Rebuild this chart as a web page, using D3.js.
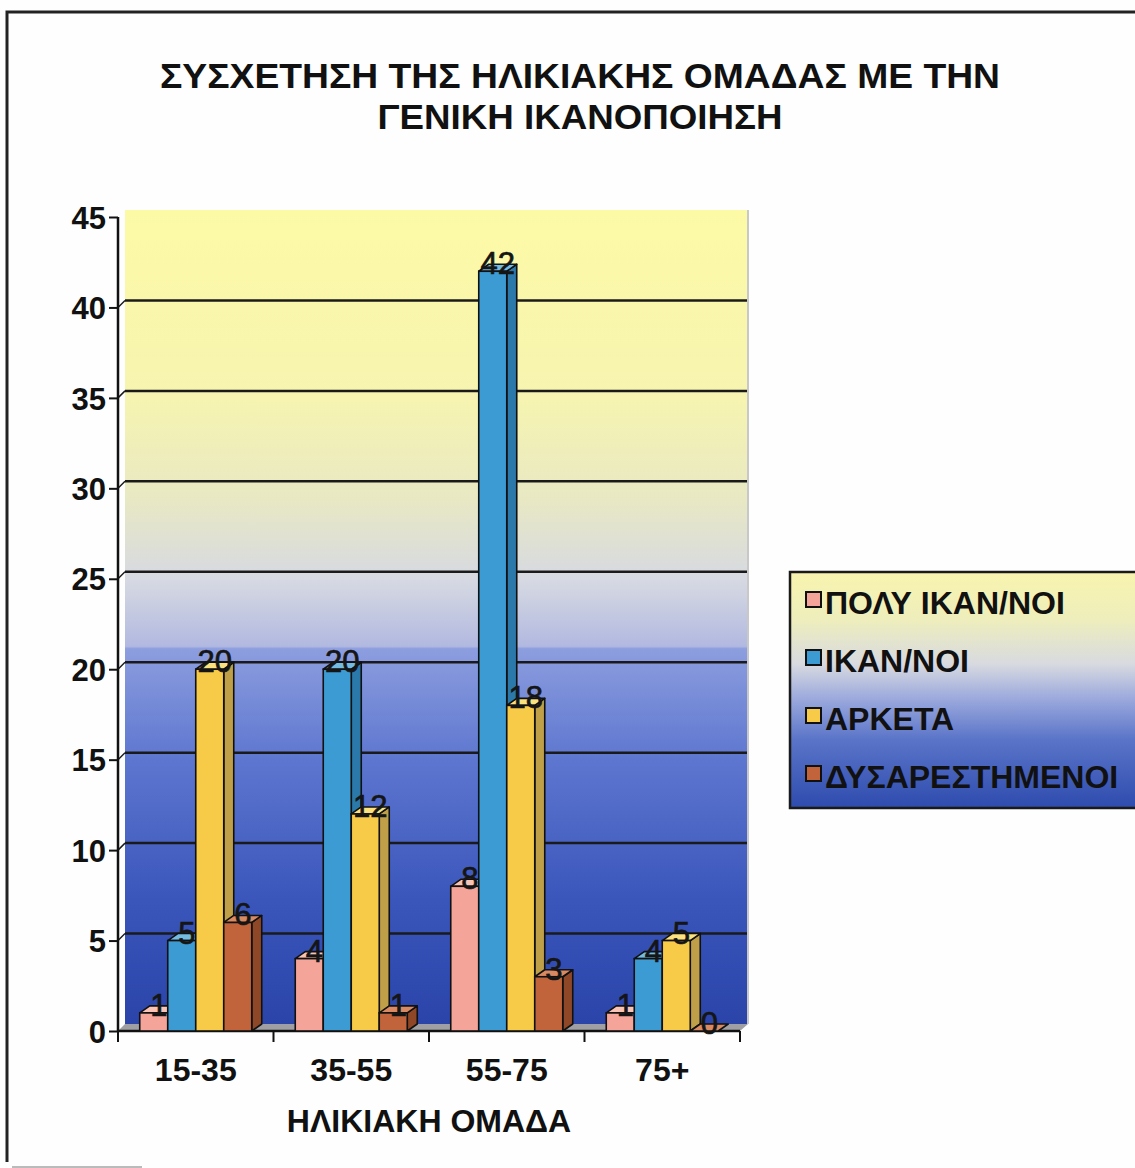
<!DOCTYPE html>
<html>
<head>
<meta charset="utf-8">
<script src="https://cdn.jsdelivr.net/npm/d3@7"></script>
<style>
  html, body { margin: 0; padding: 0; background: #fdfefd; }
  svg { display: block; }
  text { font-family: "Liberation Sans", Arial, sans-serif; }
</style>
</head>
<body>
<svg id="chart" width="1135" height="1168"></svg>
<script>
// Age groups and satisfaction levels
const categories = ["15-35", "35-55", "55-75", "75+"];
const seriesNames = ["ΠΟΛΥ ΙΚΑΝ/ΝΟΙ", "ΙΚΑΝ/ΝΟΙ", "ΑΡΚΕΤΑ", "ΔΥΣΑΡΕΣΤΗΜΕΝΟΙ"];
const polyIkanoi = [1, 4, 8, 1];
const ikanoi = [5, 20, 42, 4];
const arketa = [20, 12, 18, 5];
const dysarestimenoi = [6, 1, 3, 0];
const yTicks = [0, 5, 10, 15, 20, 25, 30, 35, 40, 45];
const titleLines = ["ΣΥΣΧΕΤΗΣΗ ΤΗΣ ΗΛΙΚΙΑΚΗΣ ΟΜΑΔΑΣ ΜΕ ΤΗΝ", "ΓΕΝΙΚΗ ΙΚΑΝΟΠΟΙΗΣΗ"];
const xTitle = "ΗΛΙΚΙΑΚΗ ΟΜΑΔΑ";

const seriesValues = [polyIkanoi, ikanoi, arketa, dysarestimenoi];

// face colours per series: front, top, side
const palette = [
  { front: "#f4a498", top: "#f9c4b6", side: "#d38a7c" },
  { front: "#3d9bd4", top: "#74bbe2", side: "#2b78aa" },
  { front: "#f7cb47", top: "#fbe27e", side: "#bfa048" },
  { front: "#c2643b", top: "#da8a62", side: "#8e4727" }
];

const svg = d3.select("#chart");
const defs = svg.append("defs");

// plot area
const plotL = 118, plotR = 740, plotB = 1031, plotT = 217;
const wallDx = 7, wallDy = -7;     // back wall offset
const depthX = 10, depthY = -7;    // bar depth
const barW = 28;

const y = d3.scaleLinear().domain([0, 45]).range([plotB, plotT]);
const x0 = d3.scaleBand().domain(categories).range([plotL, plotR]);
const groupW = barW * seriesNames.length;
const x1 = d3.scaleBand().domain(seriesNames)
  .range([(x0.bandwidth() - groupW) / 2, (x0.bandwidth() + groupW) / 2]);

// outer frame
svg.append("path")
  .attr("d", "M7,1162 V12 H1135")
  .attr("fill", "none").attr("stroke", "#222").attr("stroke-width", 3);
svg.append("line")
  .attr("x1", 12).attr("x2", 142).attr("y1", 1167).attr("y2", 1167)
  .attr("stroke", "#bbb").attr("stroke-width", 2);

// title (two centred lines)
const titleWidths = [840, 405];
svg.append("g").selectAll("text").data(titleLines).join("text")
  .attr("x", 580).attr("y", (d, i) => 88 + i * 41)
  .attr("text-anchor", "middle")
  .attr("font-size", 35).attr("font-weight", "bold").attr("fill", "#111")
  .attr("textLength", (d, i) => titleWidths[i])
  .attr("lengthAdjust", "spacingAndGlyphs")
  .text(d => d);

// back wall gradient
const wallGrad = defs.append("linearGradient").attr("id", "wallGrad")
  .attr("x1", 0).attr("y1", 0).attr("x2", 0).attr("y2", 1);
[
  [0, "#fdfaa6"], [0.233, "#f6f4b0"], [0.356, "#e8e8c4"], [0.455, "#d6d9e2"],
  [0.536, "#b2b9e0"], [0.539, "#8d9edf"], [0.676, "#5d76cf"], [0.848, "#3a56bb"], [1, "#2a44aa"]
].forEach(([o, c]) => wallGrad.append("stop").attr("offset", o).attr("stop-color", c));

const wallTop = y(45) + wallDy, wallBottom = plotB + wallDy;
svg.append("rect")
  .attr("x", plotL + wallDx).attr("y", wallTop)
  .attr("width", plotR + 1 - plotL).attr("height", wallBottom - wallTop)
  .attr("fill", "url(#wallGrad)");
svg.append("line")
  .attr("x1", plotR + wallDx + 1).attr("x2", plotR + wallDx + 1)
  .attr("y1", wallTop).attr("y2", wallBottom)
  .attr("stroke", "#c8c8c8").attr("stroke-width", 2);

// gridlines on the wall, with the short diagonal joining the axis
const grid = svg.append("g");
yTicks.filter(t => t > 0 && t < 45).forEach(t => {
  grid.append("line")
    .attr("x1", plotL + wallDx).attr("x2", plotR + wallDx)
    .attr("y1", y(t) + wallDy).attr("y2", y(t) + wallDy)
    .attr("stroke", "#1a1a1a").attr("stroke-width", 2.5);
  grid.append("line")
    .attr("x1", plotL).attr("x2", plotL + wallDx)
    .attr("y1", y(t)).attr("y2", y(t) + wallDy)
    .attr("stroke", "#1a1a1a").attr("stroke-width", 1.5);
});

// floor
svg.append("path")
  .attr("d", `M${plotL},${plotB} L${plotR},${plotB} L${plotR + wallDx + 1},${plotB + wallDy} L${plotL + wallDx},${plotB + wallDy} Z`)
  .attr("fill", "#a0a0a4");

// y axis
const yAxis = svg.append("g")
  .attr("transform", `translate(${plotL},0)`)
  .call(d3.axisLeft(y).tickValues(yTicks).tickSize(9).tickPadding(3).tickFormat(d3.format("d")));
yAxis.select(".domain").attr("stroke", "#111").attr("stroke-width", 2.5)
  .attr("d", `M0,${plotT}V${plotB}`);
yAxis.selectAll(".tick line").attr("stroke", "#111").attr("stroke-width", 2);
yAxis.selectAll(".tick text")
  .attr("font-size", 31).attr("font-weight", "bold").attr("fill", "#111")
  .attr("font-family", "Liberation Sans, Arial, sans-serif").attr("dy", "0.36em");

// x axis
const xAxis = svg.append("g")
  .attr("transform", `translate(0,${plotB})`)
  .call(d3.axisBottom(x0).tickSize(0).tickPadding(27));
xAxis.select(".domain").attr("stroke", "#111").attr("stroke-width", 2.5)
  .attr("d", `M${plotL},0H${plotR}`);
xAxis.selectAll(".tick text")
  .attr("font-size", 32).attr("font-weight", "bold").attr("fill", "#111")
  .attr("font-family", "Liberation Sans, Arial, sans-serif");
// category boundary ticks
const boundaries = categories.map(c => x0(c)).concat([plotR]);
xAxis.append("g").selectAll("line").data(boundaries).join("line")
  .attr("x1", d => d).attr("x2", d => d).attr("y1", 0).attr("y2", 11)
  .attr("stroke", "#111").attr("stroke-width", 2);

svg.append("text")
  .attr("x", (plotL + plotR) / 2).attr("y", 1132)
  .attr("text-anchor", "middle")
  .attr("font-size", 32).attr("font-weight", "bold").attr("fill", "#111")
  .text(xTitle);

// 3D bars, drawn left to right so each front covers the previous side face
const bars = [];
categories.forEach((c, ci) => {
  seriesNames.forEach((s, si) => {
    bars.push({ cat: c, series: s, si, value: seriesValues[si][ci] });
  });
});

const barG = svg.append("g");
bars.forEach(b => {
  const bx = x0(b.cat) + x1(b.series);
  const by = y(b.value);
  const col = palette[b.si];
  const g = barG.append("g");
  if (b.value > 0) {
    g.append("path")
      .attr("d", `M${bx + barW},${plotB} L${bx + barW + depthX},${plotB + depthY} L${bx + barW + depthX},${by + depthY} L${bx + barW},${by} Z`)
      .attr("fill", col.side).attr("stroke", "#111").attr("stroke-width", 1.6).attr("stroke-linejoin", "round");
  }
  g.append("path")
    .attr("d", `M${bx},${by} L${bx + depthX},${by + depthY} L${bx + barW + depthX},${by + depthY} L${bx + barW},${by} Z`)
    .attr("fill", col.top).attr("stroke", "#111").attr("stroke-width", 1.6).attr("stroke-linejoin", "round");
  if (b.value > 0) {
    g.append("rect")
      .attr("x", bx).attr("y", by).attr("width", barW).attr("height", plotB - by)
      .attr("fill", col.front).attr("stroke", "#111").attr("stroke-width", 1.6);
  }
});

// value labels
svg.append("g").selectAll("text").data(bars).join("text")
  .attr("x", d => x0(d.cat) + x1(d.series) + barW / 2 + depthX / 2)
  .attr("y", d => y(d.value) + 3)
  .attr("text-anchor", "middle")
  .attr("font-size", 31).attr("fill", "#151515")
  .attr("stroke", "#151515").attr("stroke-width", 0.7)
  .text(d => d.value);

// legend
const legGrad = defs.append("linearGradient").attr("id", "legGrad")
  .attr("x1", 0).attr("y1", 0).attr("x2", 0).attr("y2", 1);
[
  [0, "#f8f4ae"], [0.2, "#eeeebc"], [0.39, "#d8dae0"], [0.54, "#9aa8dc"], [0.71, "#5a74c8"], [1, "#2e4cae"]
].forEach(([o, c]) => legGrad.append("stop").attr("offset", o).attr("stop-color", c));

const legend = svg.append("g");
legend.append("rect")
  .attr("x", 790).attr("y", 572).attr("width", 360).attr("height", 236)
  .attr("fill", "url(#legGrad)").attr("stroke", "#1a1a1a").attr("stroke-width", 2.5);
const items = legend.selectAll("g.item").data(seriesNames).join("g")
  .attr("class", "item")
  .attr("transform", (d, i) => `translate(0,${i * 58})`);
items.append("rect")
  .attr("x", 806).attr("y", 592).attr("width", 15).attr("height", 15)
  .attr("fill", (d, i) => palette[i].front).attr("stroke", "#111").attr("stroke-width", 2);
items.append("text")
  .attr("x", 825).attr("y", 614)
  .attr("font-size", 32).attr("font-weight", "bold").attr("fill", "#111")
  .text(d => d);
</script>
</body>
</html>
